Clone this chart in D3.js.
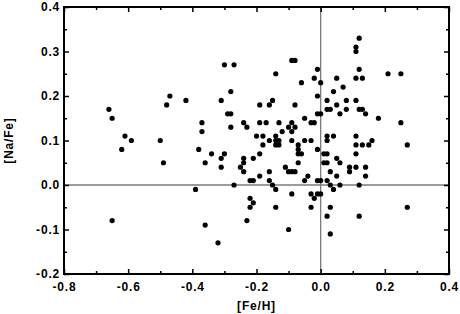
<!DOCTYPE html>
<html>
<head>
<meta charset="utf-8">
<script src="https://cdn.jsdelivr.net/npm/d3@7"></script>
<style>
  body { margin: 0; background: #fff; }
  text { font-family: "Liberation Sans", Arial, sans-serif; font-weight: bold; }
</style>
</head>
<body>
<div id="chart"></div>
<script>
// [Fe/H] of each star
const feH = [
  -0.66, -0.65, -0.61, -0.59, -0.62, -0.50, -0.65, -0.30, -0.27, -0.09,
  -0.08, -0.14, -0.06, -0.28, -0.47, -0.42, -0.31, -0.48, -0.19, -0.16,
  -0.15, -0.08, 0.12, 0.11, 0.11, -0.01, 0.12, 0.21, 0.25, -0.02,
  0.00, 0.05, 0.11, 0.13, 0.04, 0.07, -0.01, 0.02, 0.05, 0.08,
  0.11, 0.02, 0.03, 0.08, 0.12, 0.13, -0.05, -0.03, -0.02, -0.01,
  0.00, 0.06, 0.14, 0.18, 0.25, -0.05, -0.03, 0.02, 0.04, 0.02,
  -0.01, -0.06, 0.01, 0.02, 0.11, 0.11, 0.13, 0.15, 0.16, 0.27,
  0.11, 0.01, 0.02, 0.05, 0.06, -0.07, 0.03, 0.05, 0.09, 0.09,
  0.11, 0.14, 0.14, -0.04, -0.05, -0.01, 0.00, 0.02, 0.03, 0.04,
  0.06, 0.12, -0.03, -0.01, 0.00, -0.02, -0.03, 0.03, 0.27, 0.02,
  0.12, 0.03, -0.29, -0.28, -0.37, -0.37, -0.28, -0.24, -0.23, -0.19,
  -0.17, -0.13, -0.10, -0.09, -0.08, -0.12, -0.09, -0.20, -0.18, -0.14,
  -0.16, -0.14, -0.13, -0.14, -0.13, -0.18, -0.09, -0.07, -0.07, -0.07,
  -0.38, -0.34, -0.30, -0.31, -0.19, -0.24, -0.21, -0.49, -0.36, -0.24,
  -0.31, -0.25, -0.11, -0.24, -0.16, -0.10, -0.09, -0.08, -0.19, -0.22,
  -0.21, -0.16, -0.15, -0.27, -0.14, -0.39, -0.09, -0.22, -0.21, -0.22,
  -0.14, -0.36, -0.23, -0.10, -0.32
];

// [Na/Fe] of each star, same order
const naFe = [
  0.17, 0.15, 0.11, 0.10, 0.08, 0.10, -0.08, 0.27, 0.27, 0.28,
  0.28, 0.25, 0.23, 0.21, 0.20, 0.19, 0.19, 0.18, 0.18, 0.18,
  0.19, 0.18, 0.33, 0.31, 0.30, 0.26, 0.26, 0.25, 0.25, 0.24,
  0.23, 0.24, 0.24, 0.24, 0.21, 0.22, 0.20, 0.19, 0.18, 0.19,
  0.19, 0.17, 0.17, 0.17, 0.17, 0.17, 0.15, 0.14, 0.14, 0.16,
  0.16, 0.16, 0.16, 0.15, 0.14, 0.10, 0.10, 0.11, 0.11, 0.10,
  0.08, 0.07, 0.07, 0.07, 0.11, 0.09, 0.09, 0.09, 0.10, 0.09,
  0.07, 0.05, 0.05, 0.06, 0.05, 0.05, 0.03, 0.02, 0.04, 0.03,
  0.04, 0.04, 0.02, 0.02, 0.01, 0.01, 0.01, 0.01, 0.00, -0.01,
  0.00, 0.00, -0.02, -0.02, -0.02, -0.03, -0.05, -0.05, -0.05, -0.07,
  -0.07, -0.11, 0.16, 0.16, 0.14, 0.12, 0.13, 0.14, 0.13, 0.14,
  0.14, 0.14, 0.13, 0.14, 0.13, 0.12, 0.12, 0.11, 0.11, 0.11,
  0.10, 0.10, 0.10, 0.09, 0.09, 0.09, 0.10, 0.09, 0.08, 0.07,
  0.08, 0.07, 0.07, 0.06, 0.07, 0.06, 0.06, 0.05, 0.05, 0.05,
  0.04, 0.04, 0.04, 0.03, 0.03, 0.03, 0.03, 0.03, 0.02, 0.01,
  0.01, 0.01, 0.00, 0.00, -0.01, -0.01, -0.02, -0.03, -0.04, -0.05,
  -0.05, -0.09, -0.08, -0.10, -0.13
];

const xTicks = [-0.8, -0.6, -0.4, -0.2, 0.0, 0.2, 0.4];
const xTickLabels = ['-0.8', '-0.6', '-0.4', '-0.2', '0.0', '0.2', '0.4'];
const xMinorTicks = [-0.7, -0.5, -0.3, -0.1, 0.1, 0.3];
const yTicks = [-0.2, -0.1, 0.0, 0.1, 0.2, 0.3, 0.4];
const yTickLabels = ['-0.2', '-0.1', '0.0', '0.1', '0.2', '0.3', '0.4'];
const yMinorTicks = [-0.15, -0.05, 0.05, 0.15, 0.25, 0.35];

const width = 460, height = 314;
const margin = { top: 7, right: 11, bottom: 40, left: 64 };
const plotW = width - margin.left - margin.right;
const plotH = height - margin.top - margin.bottom;

const svg = d3.select('#chart').append('svg')
  .attr('width', width)
  .attr('height', height);

const g = svg.append('g')
  .attr('transform', `translate(${margin.left},${margin.top})`);

const xScale = d3.scaleLinear().domain([-0.8, 0.4]).range([0, plotW]);
const yScale = d3.scaleLinear().domain([-0.2, 0.4]).range([plotH, 0]);

// zero reference lines
g.append('line')
  .attr('x1', 0).attr('x2', plotW)
  .attr('y1', yScale(0)).attr('y2', yScale(0))
  .attr('stroke', '#7a7a7a').attr('stroke-width', 1.5);
g.append('line')
  .attr('x1', xScale(0)).attr('x2', xScale(0))
  .attr('y1', 0).attr('y2', plotH)
  .attr('stroke', '#7a7a7a').attr('stroke-width', 1.3);

// points
g.selectAll('.dot')
  .data(feH.map((d, i) => [d, naFe[i]]))
  .enter().append('circle')
  .attr('class', 'dot')
  .attr('cx', d => xScale(d[0]))
  .attr('cy', d => yScale(d[1]))
  .attr('r', 2.6)
  .attr('fill', '#000');

// axes, ticks pointing inward
function styleAxis(sel) {
  sel.select('.domain').remove();
  sel.selectAll('line').attr('stroke', '#000').attr('stroke-width', 1.5);
  sel.selectAll('text')
    .attr('fill', '#000')
    .style('font-size', '12px')
    .style('letter-spacing', '0.8px');
}

const axisBottomG = g.append('g').attr('transform', `translate(0,${plotH})`);
axisBottomG.append('g').call(d3.axisBottom(xScale).tickValues(xTicks).tickSize(-5).tickPadding(8)
  .tickFormat((d, i) => xTickLabels[i])).call(styleAxis);
axisBottomG.append('g').call(d3.axisBottom(xScale).tickValues(xMinorTicks).tickSize(-3).tickFormat('')).call(styleAxis);

const axisTopG = g.append('g');
axisTopG.append('g').call(d3.axisTop(xScale).tickValues(xTicks).tickSize(-5).tickFormat('')).call(styleAxis);
axisTopG.append('g').call(d3.axisTop(xScale).tickValues(xMinorTicks).tickSize(-3).tickFormat('')).call(styleAxis);

const axisLeftG = g.append('g');
axisLeftG.append('g').call(d3.axisLeft(yScale).tickValues(yTicks).tickSize(-5).tickPadding(4)
  .tickFormat((d, i) => yTickLabels[i])).call(styleAxis);
axisLeftG.append('g').call(d3.axisLeft(yScale).tickValues(yMinorTicks).tickSize(-3).tickFormat('')).call(styleAxis);

const axisRightG = g.append('g').attr('transform', `translate(${plotW},0)`);
axisRightG.append('g').call(d3.axisRight(yScale).tickValues(yTicks).tickSize(-5).tickFormat('')).call(styleAxis);
axisRightG.append('g').call(d3.axisRight(yScale).tickValues(yMinorTicks).tickSize(-3).tickFormat('')).call(styleAxis);

// frame
g.append('rect')
  .attr('x', 0).attr('y', 0)
  .attr('width', plotW).attr('height', plotH)
  .attr('fill', 'none')
  .attr('stroke', '#000')
  .attr('stroke-width', 2);

// axis titles
svg.append('text')
  .attr('x', margin.left + plotW / 2)
  .attr('y', 310)
  .attr('text-anchor', 'middle')
  .style('font-size', '12px')
  .style('letter-spacing', '0.8px')
  .text('[Fe/H]');

svg.append('text')
  .attr('transform', `translate(13,${margin.top + plotH / 2}) rotate(-90)`)
  .attr('text-anchor', 'middle')
  .style('font-size', '12px')
  .style('letter-spacing', '0.8px')
  .text('[Na/Fe]');
</script>
</body>
</html>
